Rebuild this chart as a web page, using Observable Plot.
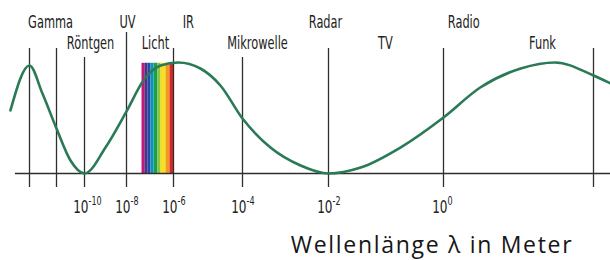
<!DOCTYPE html>
<html>
<head>
<meta charset="utf-8">
<script src="https://cdn.jsdelivr.net/npm/d3@7"></script>
<script src="https://cdn.jsdelivr.net/npm/@observablehq/plot@0.6"></script>
<style>
  body { margin: 0; background: #fff; width: 610px; height: 260px; overflow: hidden; position: relative; }
  #chart svg { display: block; }
  #title {
    position: absolute; left: 254px; width: 356px; top: 228px; height: 32px; line-height: 32px;
    text-align: center; font-family: "Open Sans", sans-serif; font-size: 23px; letter-spacing: 1.7px; color: #161616;
  }
</style>
</head>
<body>
<div id="chart"></div>
<div id="title">Wellenlänge λ in Meter</div>
<script>
// ---- data (x = log10 of wavelength in metres, y = relative wave amplitude) ----
const lineExponents = [-14, -12, -10, -8, -6, -4, -2, 0, 2];
const lineTops      = [1.126, 1.126, 1.045, 1.27, 1.126, 1.045, 1.126, 1.126, 1.126];
const labeledExponents = [-10, -8, -6, -4, -2, 0];

const bandNames   = ["Gamma", "UV", "IR", "Radar", "Radio", "Röntgen", "Licht", "Mikrowelle", "TV", "Funk"];
const bandCenters = [-12.44, -7.96, -5.57, -2.07, 0.27, -9.71, -6.77, -3.65, -1.01, 1.32];
const bandRows    = [1, 1, 1, 1, 1, 2, 2, 2, 2, 2];

const waveX = [-15.41, -14, -13.04, -12, -11, -10, -9, -8, -7.28, -6.55, -5.86, -5.22, -4.64, -4, -3.35, -2.65, -2, -1.44, -0.75, 0, 0.49, 1.03, 1.49, 2, 2.23];
const waveY = [0.568, 0.973, 0.72, 0.405, 0.117, 0, 0.234, 0.559, 0.838, 0.973, 1.0, 0.946, 0.793, 0.495, 0.234, 0.072, 0, 0.054, 0.234, 0.505, 0.775, 0.946, 1.0, 0.883, 0.811];

const spectrumEdges  = [-7.34, -7.22, -7.09, -6.96, -6.83, -6.66, -6.53, -6.32, -6.15, -6.0];
const spectrumColors = ["#c4167f", "#5a2c88", "#224c9f", "#0e8dcc", "#1aa04c", "#8dc43f", "#f6e11c", "#f29a1f", "#d62829"];
const spectrumTop = 0.993;
const axisStart = -15.04, axisEnd = 2.23;

// ---- derived tables ----
const lines = lineExponents.map((x, i) => ({x, top: lineTops[i]}));
const bands = bandNames.map((name, i) => ({name, x: bandCenters[i], row: bandRows[i]}));
const wave = waveX.map((x, i) => ({x, y: waveY[i]}));
const stripes = spectrumColors.map((color, i) => ({x1: spectrumEdges[i], x2: spectrumEdges[i + 1], color}));
const ticks = labeledExponents.map(e => ({x: e, exp: String(e)}));

const labelFont = '"DejaVu Sans", sans-serif';
const rowY = r => (r === 1 ? 1.36 : 1.171);

const chart = Plot.plot({
  width: 610,
  height: 228,
  margin: 0,
  x: {type: "linear", domain: lineExponents, range: [29, 56, 84, 126, 173, 242, 328, 443, 593], axis: null},
  y: {domain: [0, 1], range: [173, 62], axis: null},
  color: {type: "identity"},
  marks: [
    Plot.rect(stripes, {x1: "x1", x2: "x2", y1: 0, y2: spectrumTop, fill: "color"}),
    Plot.ruleX(lines, {x: "x", y1: -0.126, y2: "top", stroke: "#2e2e2e", strokeWidth: 1.3}),
    Plot.ruleY([0], {x1: axisStart, x2: axisEnd, stroke: "#2e2e2e", strokeWidth: 1.5}),
    Plot.line(wave, {x: "x", y: "y", curve: "monotone-x", stroke: "#2b7a56", strokeWidth: 2.6}),
    Plot.text(bands, {x: "x", y: d => rowY(d.row), text: "name", fontFamily: labelFont, fontSize: 17, fill: "#222"}),
    Plot.text(ticks, {x: "x", y: -0.306, text: () => "10", textAnchor: "end", dx: 4, fontFamily: labelFont, fontSize: 18, fill: "#222"}),
    Plot.text(ticks, {x: "x", y: -0.25, text: "exp", textAnchor: "start", dx: 4, fontFamily: labelFont, fontSize: 12, fill: "#222"})
  ]
});
document.getElementById("chart").appendChild(chart);

// condensed lettering, as in the reference: squeeze each label horizontally about its anchor point
chart.querySelectorAll("text").forEach(t => {
  const x = parseFloat(t.getAttribute("x")) || 0;
  const tr = t.getAttribute("transform") || "";
  t.setAttribute("transform", `${tr} translate(${x},0) scale(0.67,1) translate(${-x},0)`.trim());
});
</script>
</body>
</html>
